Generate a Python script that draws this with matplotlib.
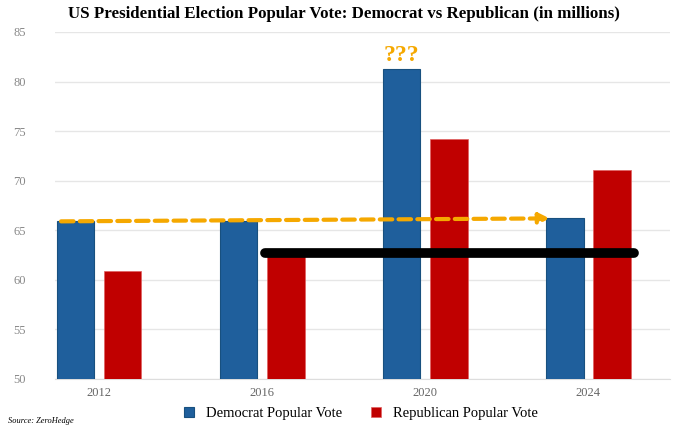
import matplotlib.pyplot as plt
import numpy as np

years = ['2012', '2016', '2020', '2024']
dem = [65.9, 65.9, 81.3, 66.2]
rep = [60.9, 62.9, 74.2, 71.1]
yticks = [50, 55, 60, 65, 70, 75, 80, 85]

plt.rcParams['font.family'] = ['Liberation Serif', 'DejaVu Serif']

fig = plt.figure(figsize=(6.74, 4.29), dpi=100)
ax = fig.add_axes([55 / 674, 1 - 379 / 429, 615 / 674, 347 / 429])

x = np.arange(len(years))
w = 0.23
ax.bar(x - 0.145, dem, w, bottom=0, color='#1f5f9c', edgecolor='#18507f', linewidth=0.8,
       label='Democrat Popular Vote', zorder=3)
ax.bar(x + 0.145, rep, w, bottom=0, color='#c00000', edgecolor='#e06060', linewidth=0.5,
       label='Republican Popular Vote', zorder=3)

ax.set_ylim(50, 85)
ax.set_xlim(-0.27, 3.5)
ax.set_yticks(yticks)
ax.set_yticklabels([str(t) for t in yticks], color='#888888', fontsize=9)
ax.tick_params(axis='y', length=0, pad=30)
for lbl in ax.get_yticklabels():
    lbl.set_horizontalalignment('left')
ax.set_xticks(x)
ax.set_xticklabels(years, color='#666666', fontsize=9)
ax.tick_params(axis='x', length=0, pad=6)
ax.grid(axis='y', color='#e6e6e6', linewidth=1, zorder=0)
for s in ['top', 'right', 'left']:
    ax.spines[s].set_visible(False)
ax.spines['bottom'].set_color('#dddddd')

# orange dashed trend arrow
ax.annotate('', xy=(x[3] - 0.22, dem[3]), xytext=(x[0] - 0.25, dem[0]),
            arrowprops=dict(arrowstyle='-|>', color='#f5a800', lw=3, linestyle=(0, (3, 1.5)),
                            mutation_scale=15), zorder=5)
# black level line
ax.plot([x[1] + 0.02, x[3] + 0.28], [62.7, 62.7], color='black', lw=7,
        solid_capstyle='round', zorder=6)
ax.text(x[2] - 0.145, dem[2] + 0.3, '???', color='#f5a800', fontsize=17, fontweight='bold',
        ha='center', va='bottom', zorder=6)

fig.suptitle('US Presidential Election Popular Vote: Democrat vs Republican (in millions)',
             fontsize=12.2, fontweight='bold', y=0.985, x=0.51)
fig.legend(loc='lower center', ncol=2, frameon=False, fontsize=10.5,
           bbox_to_anchor=(0.535, -0.01), handlelength=0.7, handleheight=0.7, columnspacing=2)
fig.text(0.012, 0.015, 'Source: ZeroHedge', fontsize=6, style='italic')

fig.savefig('out.png', dpi=100)
